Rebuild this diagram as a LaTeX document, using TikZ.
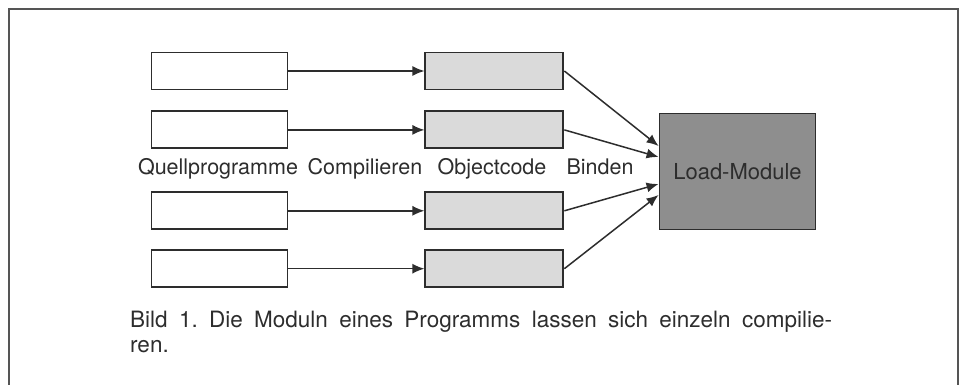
\documentclass[tikz,border=0pt]{standalone}
\usepackage{fontspec}
\setmainfont{TeX Gyre Heros}
\usepackage{tikz}
\usetikzlibrary{arrows.meta,positioning}
\definecolor{inkgrey}{RGB}{45,45,45}
\definecolor{framegrey}{RGB}{85,85,85}
\definecolor{objgrey}{RGB}{218,218,218}
\definecolor{loadgrey}{RGB}{142,142,142}
\tikzset{
  srcbox/.style={draw=inkgrey,line width=1.9pt,fill=white,
    minimum width=136pt,minimum height=37pt,inner sep=0pt},
  objbox/.style={srcbox,fill=objgrey,minimum width=138pt},
  loadbox/.style={draw=inkgrey,line width=1.9pt,fill=loadgrey,
    minimum width=156pt,minimum height=116pt,inner sep=0pt,
    font=\fontsize{22}{26}\selectfont,text=inkgrey},
  flow/.style={-{Latex[length=12pt,width=10pt]},line width=1.5pt,draw=inkgrey},
  smalllabel/.style={font=\fontsize{21.5}{25}\selectfont,anchor=base,
    text=inkgrey,inner sep=0pt}
}

\begin{document}
\frenchspacing
\begin{tikzpicture}[x=1pt,y=-1pt,node distance=20pt and 136pt]
  \useasboundingbox (0,0) rectangle (966,385);
  \draw[framegrey,line width=1.4pt] (9,385) -- (9,9) -- (958,9) -- (958,385);
  \node[srcbox] (src1) at (219.5,71) {};
  \node[srcbox,below=of src1] (src2) {};
  \node[srcbox,below=42pt of src2] (src3) {};
  \node[srcbox,below=19pt of src3] (src4) {};
  \node[objbox,right=of src1] (obj1) {};
  \node[objbox,right=of src2] (obj2) {};
  \node[objbox,right=of src3] (obj3) {};
  \node[objbox,right=of src4] (obj4) {};
  \node[loadbox] (load) at (737.5,171.5) {Load-Module};
  \draw[flow] (src1) -- (obj1);
  \draw[flow] (src2) -- (obj2);
  \draw[flow] (src3) -- (obj3);
  \draw[flow] (src4) -- (obj4);
  \draw[flow] (obj1.east) -- ([yshift=25.5pt]load.west);
  \draw[flow] (obj2.east) -- ([yshift=14.5pt]load.west);
  \draw[flow] (obj3.east) -- ([yshift=-12.5pt]load.west);
  \draw[flow] (obj4.east) -- ([yshift=-23.5pt]load.west);
  \node[smalllabel] (lblsrc) at (218,175) {Quellprogramme};
  \node[smalllabel] (lblcomp) at (365,175) {Compilieren};
  \node[smalllabel] (lblobj) at (492,175) {Objectcode};
  \node[smalllabel] (lblbind) at (600,175) {Binden};
  % caption: last line sits on the base anchor
  \node[smalllabel,font=\fontsize{22.5}{25}\selectfont,anchor=base west,
    align=left] (caption) at (130,352)
    {\makebox[702pt][s]{Bild 1. Die Moduln eines Programms lassen sich einzeln compilie-}\\ren.};
\end{tikzpicture}
\end{document}
